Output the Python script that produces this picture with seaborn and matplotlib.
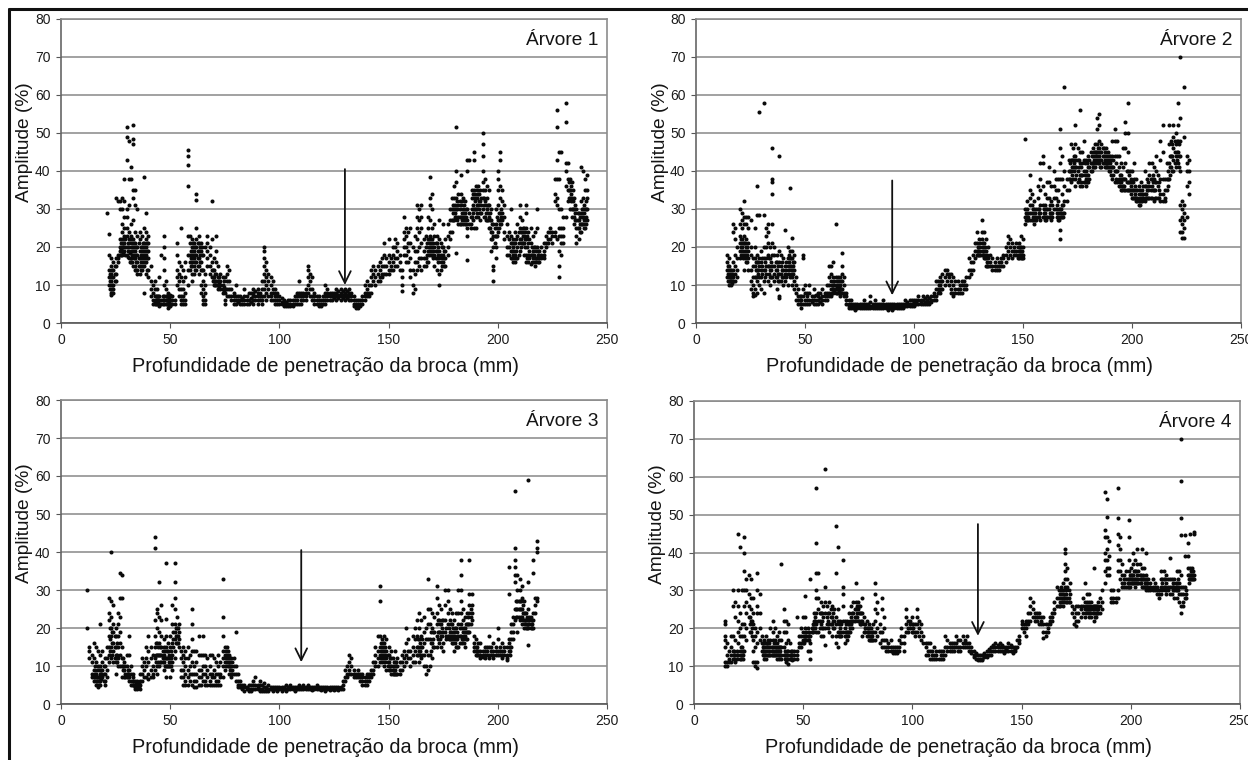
import matplotlib
matplotlib.use('Agg')
import matplotlib.pyplot as plt
from matplotlib.lines import Line2D
import pandas as pd
import seaborn as sns

# amplitude readings per drill depth (mm: [%])
tree1_amp = {
    21: [29], 22: [23.5, 18, 14, 12, 10], 23: [17, 15, 13, 11, 9, 8, 7.5], 24: [16, 14, 12, 10, 9, 8],
    25: [33, 17, 15, 13, 11], 26: [32, 18, 17, 16], 27: [32, 30, 22, 20, 19, 18],
    28: [33, 30, 26, 24, 22, 20, 19, 18], 29: [38, 32, 28, 25, 23, 21, 19], 30: [51.5, 49, 43, 30, 28, 25, 23, 20, 18],
    31: [48, 38, 31, 24, 22, 20, 17], 32: [41, 38, 26, 23, 21, 19, 17, 16], 33: [52, 48.5, 47, 35, 33, 27, 22, 20, 18, 15],
    34: [35, 31, 24, 21, 19, 17, 15, 14], 35: [30, 23, 20, 18, 16, 14, 13], 36: [24, 22, 19, 17, 15, 13],
    37: [23, 20, 18, 16, 14], 38: [38.5, 25, 21, 19, 17, 15, 8], 39: [29, 24, 22, 20, 18, 16, 13],
    40: [23, 21, 19, 17, 14, 12], 41: [15, 11, 9, 7], 42: [10, 8, 6, 5], 43: [11, 9, 7, 5.5, 5], 44: [9, 7, 6, 5],
    45: [12, 7, 6, 5, 4.5], 46: [18, 6, 5], 47: [23, 20, 17, 14, 10, 7, 6, 5], 48: [11, 9, 7, 6, 5], 49: [8, 6, 5, 4],
    50: [7.5, 6, 5, 4.5], 51: [7, 6, 5], 52: [6, 5], 53: [21, 18, 14, 12, 10], 54: [16, 13, 11, 9, 7],
    55: [25, 15, 12, 9, 7, 6, 5], 56: [14, 11, 9, 7, 6, 5], 57: [16, 12, 8, 6, 5], 58: [45.5, 44, 41.5, 36, 23, 18, 14, 10],
    59: [23, 21, 18, 16, 14], 60: [22, 20, 18, 16, 15, 13, 11], 61: [21, 19, 17, 15, 13],
    62: [34, 32.5, 25, 22, 20, 18, 16, 14], 63: [23, 21, 19, 17, 15, 13], 64: [21, 19, 16, 14, 10, 8],
    65: [18, 14, 11, 9, 7, 6, 5], 66: [20, 13, 10, 8, 6, 5], 67: [23, 21, 19, 17, 15], 68: [20, 18, 15, 13],
    69: [32, 22, 16, 14, 12], 70: [17, 14, 12, 11, 10], 71: [23, 19, 16, 13, 11, 10], 72: [15, 12, 11, 10, 9],
    73: [13, 11, 10, 9], 74: [12, 10, 9, 8], 75: [12, 9, 8, 6, 5], 76: [15, 13, 11, 9, 7], 77: [14, 11, 9, 7],
    78: [9, 7, 6], 79: [8, 7, 6, 5], 80: [10, 7, 6, 5], 82: [7, 6, 5], 84: [9, 7, 6, 5], 86: [8, 6, 5],
    88: [9, 8, 7, 6, 5], 90: [9, 8, 7, 6, 5], 92: [11, 9, 7, 6, 5], 93: [20, 19, 17, 15, 13, 11, 9, 7],
    94: [16, 14, 12, 10, 8, 6], 95: [13, 11, 9, 7], 96: [12, 10, 8, 7, 6], 97: [11, 9, 8, 6], 98: [9, 8, 7, 6, 5],
    100: [7, 6, 5], 102: [6, 5.5, 5, 4.5], 104: [6, 5, 4.5], 106: [6, 5, 4.5], 108: [8, 7, 6, 5], 109: [11, 8, 7, 5],
    110: [8, 7, 6, 5], 112: [9, 8, 7, 6], 113: [15, 14, 12, 10, 8], 114: [13, 11, 9, 7], 115: [12, 9, 7, 6],
    116: [8, 7, 6, 5], 118: [7, 6, 5, 4.5], 120: [7, 6, 5], 121: [10, 8, 7, 6, 5], 122: [9, 8, 7, 6], 124: [8, 7, 6],
    126: [9, 8, 7.5, 7, 6], 128: [9, 8, 7, 6], 130: [9, 8, 7, 6], 132: [9, 8, 7, 6], 134: [7, 6, 5, 4.5],
    135: [6, 5, 4.5, 4], 136: [6, 5, 4.5, 4], 138: [7, 6, 5], 139: [10, 8, 7, 6], 140: [11, 9, 8, 7], 141: [10, 8, 7],
    142: [14, 12, 10, 8], 143: [15, 13, 11], 144: [14, 12, 10], 146: [16, 14, 12, 11], 147: [17, 15, 13, 12],
    148: [21, 18, 15, 13], 150: [22, 18, 16, 14, 13], 152: [20, 18, 16, 14], 153: [22, 20, 17, 15], 154: [21, 19, 17, 15],
    155: [18, 16, 14], 156: [14, 12, 10, 8.5], 157: [28, 24, 22, 20, 18], 158: [25, 23, 20, 18, 16], 159: [24, 21, 19, 16],
    160: [25, 21, 17, 14, 12], 161: [20, 14, 10, 8], 162: [23, 19, 16, 13, 9], 163: [31, 28, 25, 22, 19, 16, 14],
    164: [30, 27, 24, 20, 17, 15], 165: [31, 28, 25, 21, 17, 14], 167: [23, 20, 17, 15], 168: [28, 25, 22, 19, 16],
    169: [38.5, 33, 31, 27, 23, 21, 19], 170: [34, 30, 25, 22, 20, 18], 171: [26, 23, 20, 18, 15], 172: [23, 21, 19, 17, 14],
    173: [27, 22, 19, 17, 13, 10], 174: [21, 18, 16, 14], 175: [26, 20, 18, 16], 176: [22, 19, 17, 15], 177: [26, 23, 20, 18],
    178: [30, 27, 24, 22], 179: [33, 30, 27, 24], 180: [36, 33, 30, 27], 181: [51.5, 40, 37, 33, 30, 28, 18.5],
    182: [34, 31, 28, 26], 183: [39, 34, 31, 28, 26], 184: [33, 30, 28, 26], 185: [32, 29, 26],
    186: [43, 40, 30, 27, 25, 23, 16.5], 187: [43, 29, 26], 188: [35, 33, 30, 28], 189: [45, 43, 35, 33, 30, 25],
    190: [36, 33, 30, 28, 25], 191: [36, 34, 31, 28], 192: [35, 32, 29, 27], 193: [50, 47, 44, 40, 37, 35, 33, 30],
    194: [38, 35, 32, 28], 195: [36, 33, 30, 27], 196: [35, 31, 28, 25], 197: [30, 27, 24, 22, 19],
    198: [26, 23, 20, 15, 14, 11], 199: [30, 26, 23, 20, 17], 200: [40, 38, 35, 31, 27, 24], 201: [45, 43, 36, 33, 29, 26],
    202: [35, 32, 29, 27], 203: [31, 28, 24, 22], 204: [26, 23, 20, 18], 206: [30, 23, 21, 19, 17], 207: [22, 20, 18, 16],
    208: [24, 21, 18, 16], 209: [26, 23, 20, 17], 210: [31, 28, 25, 22, 19], 211: [27, 24, 21], 212: [25, 23, 21, 18],
    213: [31, 29, 25, 22, 18, 16], 214: [24, 21, 18, 16], 215: [25, 21, 18, 15.5], 216: [23, 19, 17], 217: [24, 20, 17, 15],
    218: [30, 25, 20, 17], 219: [19, 17, 16], 221: [21, 19, 18, 17], 222: [23, 21, 20], 224: [25, 24, 22],
    226: [38, 34, 32, 24, 23], 227: [56, 51.5, 43, 38, 33, 31, 22], 228: [45, 38, 30, 25, 23, 19, 15, 12],
    229: [45, 30, 25, 23, 21, 18], 230: [28, 25, 23, 21], 231: [58, 53, 42, 40, 36, 28], 232: [42, 38, 35, 32],
    233: [38, 35, 33, 30], 234: [37, 33, 30, 28], 235: [33, 30, 28, 26], 236: [30, 27, 25, 23, 21], 237: [29, 27, 25, 22],
    238: [41, 32, 29, 26, 24], 239: [40, 33, 30, 28, 26], 240: [38, 35, 30, 27, 25], 241: [39, 35, 33, 30, 27],
}

# readings in between, where the cloud is dense
tree1_dense = {
    22.5: [13, 11, 9], 23.5: [14, 12, 10, 8], 24.5: [15, 13, 11], 27.5: [21, 19.5, 18], 28.5: [21, 20, 18.5], 29.5: [22, 20, 18],
    30.5: [21, 19, 17.5], 31.5: [22, 18.5, 16], 32.5: [22, 20, 18, 16], 33.5: [21, 19, 17], 34.5: [20, 18, 16, 14], 35.5: [21, 17, 15],
    36.5: [20, 18, 16, 14], 37.5: [21, 19, 17, 15], 38.5: [20, 18, 16], 39.5: [21, 19, 17, 14], 43.5: [7, 6, 5], 44.5: [7, 6, 5.5],
    46.5: [7, 6, 5], 48.5: [7, 6, 5], 49.5: [6.5, 5.5, 4.5], 59.5: [19, 17, 15], 60.5: [21, 19, 17], 61.5: [20, 18, 16, 14],
    62.5: [21, 19, 17, 15], 63.5: [20, 18, 16], 64.5: [20, 18, 14], 69.5: [14, 12, 11], 70.5: [13, 11, 10], 72.5: [12, 10.5, 9.5],
    74.5: [11, 9.5, 8.5], 81: [7, 6, 5.5], 83: [6.5, 6, 5], 85: [7, 6, 5], 87: [8, 6.5, 5.5], 89: [8.5, 7, 6], 91: [8, 7, 6],
    99: [8, 7, 6, 5], 101: [6.5, 5.5, 5], 103: [5.5, 5, 4.5], 105: [6, 5, 4.5], 107: [7, 6, 5], 111: [8, 7, 6], 117: [7, 6, 5],
    119: [6, 5, 4.5], 123: [8, 7, 6], 125: [8, 7, 6.5], 127: [8.5, 7.5, 6.5], 129: [8.5, 7.5, 6.5], 131: [8.5, 7.5, 6.5], 133: [8, 7, 6],
    137: [6, 5, 4.5], 145: [15, 13, 11], 149: [17, 15, 13], 151: [17, 15, 14], 166: [22, 19, 17, 15], 167.5: [21, 18, 16],
    168.5: [22, 20, 18], 169.5: [22, 20, 18], 170.5: [21, 19, 17], 171.5: [21, 19, 17], 172.5: [20, 18, 16], 174.5: [20, 17, 15],
    175.5: [19, 17, 15], 179.5: [31, 29, 27], 180.5: [31, 29, 28], 181.5: [32, 30, 27], 182.5: [32, 30, 28, 26], 183.5: [32, 29, 27],
    184.5: [31, 29, 27], 185.5: [30, 28, 26], 187.5: [28, 26, 25], 188.5: [34, 31, 29, 27], 189.5: [34, 32, 30], 190.5: [35, 33, 31, 29],
    191.5: [34, 32, 30], 192.5: [33, 31, 29], 193.5: [33, 31, 28], 194.5: [31, 29, 27], 195.5: [31, 29, 27], 196.5: [29, 27, 25],
    197.5: [26, 24, 22], 198.5: [25, 23, 21], 199.5: [28, 25, 23], 200.5: [29, 27, 25], 201.5: [30, 28, 26], 205: [24, 22, 20, 18],
    206.5: [21, 19, 17], 207.5: [21, 19, 17], 208.5: [22, 19, 17], 209.5: [24, 21, 18], 210.5: [24, 22, 20], 211.5: [25, 23, 21],
    212.5: [24, 22, 20], 213.5: [23, 20, 17], 214.5: [22, 19, 17], 215.5: [20, 18, 16], 216.5: [20, 18, 16], 217.5: [19, 17, 16],
    218.5: [19, 18, 16], 220: [20, 18, 17], 223: [24, 22, 21], 225: [24, 23, 21], 232.5: [37, 35, 33], 233.5: [36, 34, 32],
    234.5: [35, 32, 30], 235.5: [31, 29, 27], 236.5: [29, 27, 25], 237.5: [28, 26, 24], 238.5: [30, 28, 26], 239.5: [31, 29, 27, 25],
    240.5: [32, 30, 28, 26],
}

tree2_amp = {
    14: [18, 16, 14, 12], 15: [17, 15, 13, 11, 10], 16: [14, 12, 11, 10], 17: [26, 24, 16, 14, 12, 11],
    18: [25, 22, 18, 15, 13, 11], 19: [20, 17, 14, 12], 20: [30, 26, 23, 21, 19, 17], 21: [29, 27, 25, 22, 20, 18],
    22: [32, 28, 26, 23, 21, 18, 14], 23: [28, 26, 22, 20, 18, 16], 24: [28, 25, 21, 19, 17, 14], 25: [27, 20, 18, 14, 11, 9],
    26: [17, 15, 12, 10, 8, 7], 27: [25, 20, 17, 15, 12, 9, 7.5], 28: [36, 28.5, 18, 16, 14, 11, 8], 29: [55.5, 28.5, 17, 15, 12, 10],
    30: [19, 16, 14, 12, 9], 31: [58, 28.5, 20, 17, 14, 11, 8], 32: [25, 23, 20, 17, 15, 13], 33: [26, 24, 21, 18, 15, 11],
    34: [20, 17, 14, 12, 10], 35: [46, 38, 37, 34, 26, 21, 18, 15, 12], 36: [20, 18, 15, 13, 11], 37: [18, 16, 14, 12, 9],
    38: [44, 19, 16, 13, 11, 7, 6.5], 39: [18, 15, 13, 11], 40: [17, 14, 12, 10], 41: [24.5, 15, 13, 11], 42: [20, 17, 15, 13, 10],
    43: [35.5, 19, 17, 15, 12], 44: [22.5, 19, 17, 14, 12, 10], 45: [18, 16, 14, 11, 9], 46: [12, 10, 8, 6], 47: [9, 7, 6, 5],
    48: [7, 6, 5, 4], 49: [18, 17, 9, 7, 5], 50: [10, 8, 6, 5], 52: [10, 8, 6, 5], 54: [9, 7, 6, 5], 56: [8, 7, 6, 5],
    58: [9, 7, 6, 5], 60: [10, 8, 7, 6], 61: [15, 12, 10, 8, 7], 62: [15, 13, 11, 9, 7], 63: [16, 12, 10, 9, 8],
    64: [26, 12, 10, 9, 8], 65: [12, 10, 9, 8], 66: [12, 10, 9, 7], 67: [18.5, 15, 13, 11, 9, 8], 68: [12, 10, 8, 7],
    69: [8, 7, 6, 5], 71: [6, 5, 4.5, 4], 73: [5, 4.5, 4, 3.5], 75: [5, 4.5, 4], 77: [6, 5, 4.5, 4], 79: [5, 4.5, 4],
    80: [7, 5.5, 4.5, 4], 82: [6, 5, 4.5, 4], 84: [5, 4.5, 4], 86: [6, 5, 4.5, 4], 88: [5, 4.5, 4, 3.5], 90: [5, 4.5, 4, 3.5],
    92: [5, 4.5, 4], 94: [5, 4.5, 4], 96: [6, 5, 4.5], 98: [6, 5, 4.5], 100: [6, 5.5, 5, 4.5], 102: [7, 6, 5], 104: [7, 6, 5],
    106: [7, 6, 5.5, 5], 108: [7, 6, 5.5], 110: [11, 9, 7, 6], 111: [11, 9, 8], 112: [12, 10, 8], 113: [13, 11, 9],
    114: [14, 12, 10], 115: [14, 13, 11], 116: [13, 12, 10], 117: [13, 11, 9, 8], 118: [12, 10, 8, 7], 119: [11, 9, 8],
    120: [11, 9, 8], 122: [11, 10, 8], 124: [12, 10, 9], 125: [17, 14, 12], 126: [16, 14, 13], 127: [18, 16, 14],
    128: [21, 19, 17], 129: [24, 21, 19, 18], 130: [22, 20, 18], 131: [27, 24, 22, 20, 18], 132: [24, 21, 19, 17],
    133: [22, 19, 17, 15], 134: [20, 17, 15], 135: [18, 16, 15], 136: [17, 15, 14], 138: [17, 15, 14], 140: [17, 16, 15],
    141: [18, 17, 15], 142: [20, 18, 16], 143: [23, 21, 19, 17], 144: [22, 20, 18], 145: [21, 19, 17], 147: [21, 19, 18],
    148: [21, 19, 17], 149: [23, 20, 18, 17], 150: [22, 20, 18, 17], 151: [48.5, 30, 28, 26], 152: [32, 30, 28, 27],
    153: [39, 35, 33, 31, 29, 27], 154: [34, 31, 29, 27], 155: [32, 30, 28, 26], 156: [30, 28, 27], 157: [36, 33, 30, 28],
    158: [42, 38, 35, 31, 29, 27], 159: [44, 42, 36, 31, 28], 160: [34, 31, 29, 27], 161: [37, 33, 30, 28],
    162: [41, 37, 33, 30, 28], 163: [36, 32, 29, 27], 164: [40, 36, 33, 30], 165: [38, 35, 33, 30], 166: [38, 35, 32, 29, 27],
    167: [51, 46, 42, 38, 30, 28, 24.5, 22], 168: [44, 38, 34, 31, 28], 169: [62, 40, 36, 32, 29], 170: [38, 35, 32],
    171: [43, 40, 38, 35], 172: [47, 43, 40, 37], 173: [46, 43, 41, 38], 174: [52, 47, 44, 41, 38, 36], 175: [46, 43, 40, 37],
    176: [56, 45, 42, 39, 36], 177: [45, 42, 39, 36], 178: [48, 43, 40, 37], 179: [43, 40, 38, 36], 180: [44, 41, 39, 37],
    181: [45, 42, 40], 182: [46, 44, 42, 41], 183: [47, 45, 43, 41], 184: [54, 51, 47, 45, 43], 185: [55, 52, 48, 46, 44, 42],
    186: [47, 45, 43, 41], 187: [46, 44, 42], 188: [46, 44, 42, 41], 189: [45, 43, 41], 190: [44, 42, 40], 191: [48, 44, 41, 38],
    192: [51, 48, 44, 40, 37], 193: [48, 44, 40, 37], 194: [44, 41, 38, 36], 195: [42, 39, 37, 35], 196: [46, 41, 38, 36],
    197: [53, 50, 46, 42, 38, 35], 198: [58, 50, 45, 40, 37, 35], 199: [40, 37, 35], 200: [40, 37, 35, 33], 201: [42, 38, 35, 33],
    202: [38, 35, 33, 32], 203: [36, 34, 32, 31], 204: [37, 34, 32], 205: [36, 34, 33], 206: [40, 36, 34, 32], 207: [38, 35, 33],
    208: [42, 39, 36, 33], 209: [42, 38, 36, 33], 210: [41, 38, 35, 32], 211: [44, 40, 37, 33], 212: [39, 36, 33],
    213: [48, 43, 38, 34, 32], 214: [52, 45, 38, 34, 32], 215: [38, 35, 33, 32], 216: [42, 38, 35], 217: [52, 47, 42, 38],
    218: [48, 44, 41], 219: [52, 49, 46, 43, 40], 220: [50, 47, 44, 41], 221: [58, 52, 48, 45, 42],
    222: [70, 54, 48, 44, 40, 31, 27, 24], 223: [32, 30, 28, 26, 24, 22.5], 224: [62, 49, 31, 29, 27, 25, 22.5],
    225: [44, 42, 40, 36, 28], 226: [43, 40, 37, 34],
}

tree2_dense = {
    14.5: [15, 13, 11], 15.5: [14, 12, 11], 16.5: [13, 12, 10.5], 20.5: [22, 20, 18], 21.5: [21, 19, 17], 22.5: [21, 19, 17],
    23.5: [20, 18, 16], 27.5: [16, 14, 12], 28.5: [16, 14, 13], 30.5: [17, 15, 13], 31.5: [16, 14, 12], 33.5: [17, 15, 13],
    34.5: [16, 14, 12], 36.5: [16, 14, 12], 37.5: [15, 13, 11], 39.5: [16, 14, 12], 41.5: [16, 14, 12], 42.5: [18, 16, 14],
    43.5: [17, 15, 13], 44.5: [16, 15, 13], 47.5: [7, 6, 5], 51: [8, 7, 6, 5], 53: [7, 6, 5.5], 55: [7.5, 6, 5], 57: [8, 6.5, 5.5],
    59: [8, 7, 6], 62.5: [10, 9, 8], 63.5: [11, 10, 8.5], 64.5: [11, 9.5, 8], 65.5: [11, 9.5, 8.5], 66.5: [11, 9, 8],
    70: [6, 5, 4.5, 4], 72: [5, 4.5, 4], 74: [5, 4.5, 4], 76: [5, 4.5, 4], 78: [5, 4.5, 4], 81: [5, 4.5, 4], 83: [5, 4.5, 4],
    85: [5, 4.5, 4], 87: [5, 4.5, 4], 89: [5, 4.5, 4], 91: [5, 4.5, 4], 93: [5, 4.5, 4], 95: [5, 4.5, 4], 97: [5.5, 5, 4.5],
    99: [6, 5, 4.5], 101: [6, 5.5, 5], 103: [6, 5.5, 5], 105: [6.5, 5.5, 5], 107: [6.5, 5.5, 5], 109: [8, 7, 6], 111.5: [10, 8.5],
    112.5: [11, 9], 121: [10, 9, 8], 123: [11, 10, 9], 129.5: [20, 19, 18], 130.5: [21, 19, 18], 131.5: [21, 19, 18],
    132.5: [20, 18, 17], 133.5: [18, 16, 15], 137: [16, 15, 14], 139: [16, 15, 14], 146: [20, 19, 18], 147.5: [20, 18, 17],
    148.5: [20, 19, 18], 149.5: [19, 18, 17], 151.5: [29, 28, 27], 152.5: [29, 28, 27], 154.5: [30, 28, 27], 155.5: [29, 27],
    157.5: [30, 29, 28], 159.5: [30, 29, 28], 160.5: [30, 28, 27], 162.5: [31, 29, 28], 163.5: [31, 29, 28], 165.5: [31, 29, 28],
    166.5: [30, 28, 27], 167.5: [30, 29, 28], 168.5: [31, 29, 28], 171.5: [42, 40, 38], 172.5: [43, 41, 39], 173.5: [44, 42, 40],
    174.5: [43, 41, 39], 175.5: [43, 41, 38], 176.5: [41, 39, 37], 178.5: [42, 39, 37], 179.5: [42, 39, 37], 180.5: [43, 41, 38],
    181.5: [44, 42, 40], 182.5: [45, 43, 41], 183.5: [45, 44, 42], 184.5: [46, 44, 42], 185.5: [45, 43, 41], 186.5: [46, 44, 42],
    187.5: [45, 43, 41], 188.5: [44, 42, 41], 189.5: [44, 42, 40], 190.5: [43, 41, 39], 191.5: [43, 41, 39], 192.5: [42, 40, 38],
    194.5: [39, 37, 36], 195.5: [38, 36, 35], 196.5: [38, 36, 35], 197.5: [40, 37, 35], 198.5: [39, 37, 35], 199.5: [38, 36, 34],
    200.5: [37, 35, 33], 201.5: [36, 34, 33], 202.5: [35, 33, 32], 203.5: [35, 33, 31], 204.5: [35, 33, 32], 206.5: [36, 34, 33],
    207.5: [37, 35, 33], 208.5: [38, 35, 33], 209.5: [39, 37, 35], 210.5: [37, 35, 33], 212.5: [37, 35, 33], 216.5: [40, 38, 36],
    217.5: [44, 41, 39], 218.5: [47, 44, 40], 219.5: [48, 45, 42], 220.5: [48, 45, 43], 221.5: [47, 44, 41],
}

tree3_amp = {
    12: [30, 20], 13: [15, 14, 12], 14: [13, 11, 8, 7], 15: [16, 12, 9, 7, 6], 16: [15, 11, 8, 6, 5], 17: [14, 10, 7, 5, 4.5],
    18: [21, 13, 10, 8, 6, 5], 19: [14, 11, 9, 7], 20: [12, 10, 8, 6, 5], 21: [15, 12, 9, 7], 22: [28, 24, 22, 18, 15, 13, 11],
    23: [40, 27, 23, 20, 18, 15, 12], 24: [26, 21, 19, 16, 14, 11], 25: [20, 18, 15, 13, 11, 8], 26: [24, 21, 18, 15, 12, 10],
    27: [34.5, 28, 23, 19, 16, 13, 10], 28: [34, 28, 15, 12, 10, 7], 29: [11, 9, 7], 30: [13, 10, 8, 7], 31: [18, 13, 9, 7, 6],
    32: [10, 8, 6, 5], 33: [8, 6, 5], 34: [6, 5, 4.5, 4], 35: [6, 5, 4.5, 4], 36: [8, 6, 5, 4], 37: [12, 10, 8, 6], 38: [11, 9, 7],
    39: [15, 12, 10, 7], 40: [18, 14, 11, 8, 6.5], 41: [15, 12, 9, 7], 42: [13, 10, 8, 7], 43: [44, 41, 22, 18, 15, 12, 9],
    44: [25, 24, 20, 16, 13, 10, 8], 45: [32, 23, 19, 16, 13, 10], 46: [26, 22, 18, 15, 13, 11], 47: [17, 15, 13, 11, 9],
    48: [37, 22.5, 18, 15, 12, 10, 7], 49: [16, 14, 12, 10], 50: [18, 15, 12, 10, 7], 51: [26, 21, 16, 13, 11, 9],
    52: [37, 32, 28, 25, 21, 19, 17, 14, 12], 53: [23, 20, 18, 16], 54: [21, 19, 17, 15], 56: [15, 13, 11, 9, 7, 5],
    57: [14, 12, 10, 8, 6, 5], 58: [15, 12, 9, 7, 5], 60: [25, 21, 17, 14, 11, 8, 5], 61: [14, 10, 8, 6, 4.5], 62: [14, 11, 8, 6, 4.5],
    63: [18, 13, 9, 7, 5], 65: [18, 13, 10, 8, 6], 66: [13, 10, 8, 6, 5], 68: [13, 10, 8, 6, 5], 70: [12, 9, 7, 5],
    72: [13, 10, 8, 6, 5], 73: [11, 8, 7, 5], 74: [33, 23, 18, 14, 12, 10, 7], 75: [15, 13, 11, 9], 76: [15, 13, 11],
    77: [13, 11, 10, 8], 78: [12, 10, 8, 7], 79: [12, 10, 8], 80: [19, 10, 8, 6], 81: [8, 6, 5, 4.5], 82: [6, 5, 4.5],
    84: [5, 4.5, 3.5], 86: [5, 4, 3.5], 88: [6, 5, 4], 89: [7, 5, 4], 91: [6, 5, 4, 3.5], 93: [5.5, 4.5, 3.5], 95: [5, 4, 3.5],
    97: [4.5, 4, 3.5], 99: [4.5, 4, 3.5], 101: [4.5, 4, 3.5], 103: [5, 4, 3.5], 105: [5, 4.5, 4], 107: [4.5, 4, 3.5],
    109: [5, 4.5, 4], 111: [5, 4.5, 4], 113: [5, 4.5, 4], 115: [4.5, 4, 3.8], 117: [5, 4.5, 4], 119: [4.5, 4, 3.8],
    121: [4.5, 4, 3.5], 123: [4.5, 4, 3.8], 125: [4.5, 4, 3.8], 127: [4.5, 4, 3.8], 129: [6, 5, 4], 130: [9, 7, 6],
    131: [10, 8, 7], 132: [13, 11, 9, 8], 133: [12, 10, 8], 134: [9, 8, 7], 136: [9, 8, 7], 138: [8, 7, 6, 5], 140: [8, 7, 6, 5],
    141: [8, 7, 6], 142: [9, 8, 7], 143: [11, 9, 8], 144: [15, 13, 11, 10], 145: [18, 14, 12, 10], 146: [31, 27, 18, 15, 13, 11],
    147: [17, 15, 13, 11], 148: [18, 16, 14, 12, 10], 149: [17, 14, 12, 9], 150: [15, 13, 11, 9], 151: [14, 12, 10, 8],
    152: [12, 10, 9, 8], 153: [14, 11, 9, 8], 154: [12, 10, 8], 155: [11, 9, 8], 156: [13, 11, 9], 157: [14, 12, 10],
    158: [20, 16, 13, 11], 159: [17, 14, 12], 160: [14, 12, 10], 161: [18, 15, 13, 11], 162: [20, 17, 14, 11], 163: [22, 18, 15, 13],
    164: [24, 20, 17, 14, 11], 165: [22, 18, 15, 12], 166: [23, 19, 16, 13, 10], 167: [20, 17, 14, 10, 8], 168: [33, 25, 21, 17, 13, 9],
    169: [25, 21, 17, 13, 10], 170: [24, 20, 16, 12], 171: [23, 19, 15], 172: [31, 28, 24, 21, 18, 15], 173: [26, 22, 19, 16],
    174: [25, 21, 18, 15], 175: [22, 19, 16, 14], 176: [30, 26, 22, 19], 177: [30, 27, 24, 21, 18], 178: [25, 22, 19, 17],
    179: [24, 21, 18, 16], 180: [22, 19, 17, 14], 181: [24, 20, 17, 15], 182: [30, 24, 21, 18, 15], 183: [38, 34, 30, 27, 24, 21, 18],
    184: [25, 22, 19, 17], 185: [23, 20, 18, 15], 186: [24, 21, 19, 17], 187: [38, 29, 26, 24, 21, 19], 188: [29, 26, 24, 22],
    189: [18, 16, 15, 14], 190: [17, 15, 14, 13], 192: [16, 14, 13, 12], 194: [15, 14, 13, 12], 196: [18, 15, 13, 12],
    198: [16, 14, 13, 12], 200: [20, 17, 14, 13], 202: [16, 14, 13, 12], 204: [15, 13, 12, 11.5], 205: [36, 29, 17, 16, 14],
    206: [21, 19, 17, 15], 207: [23, 21, 19, 17], 208: [56, 41, 38, 36, 34, 32, 25, 22], 209: [34, 30, 27, 25, 23, 19],
    210: [33, 30, 27, 25, 22], 211: [31, 28, 25, 23, 21], 212: [27, 24, 22, 20], 213: [24, 22, 20], 214: [59, 32, 25, 21, 20, 15.5],
    215: [23, 21, 20], 216: [38, 34.5, 24, 22, 20], 217: [28, 26, 24], 218: [43, 41, 40, 28, 27],
}

tree3_dense = {
    15.5: [10, 8, 7], 16.5: [9, 7, 6], 17.5: [9, 7, 6], 18.5: [9, 8, 6.5], 19.5: [10, 8, 6], 22.5: [20, 17, 14], 23.5: [19, 16, 13],
    24.5: [18, 15, 12], 25.5: [16, 13, 11], 28.5: [12, 10, 9], 29.5: [10, 8, 7], 30.5: [9, 8, 7], 33: [7, 6, 5], 34.5: [5.5, 5, 4.5],
    35.5: [5.5, 5, 4.5], 43.5: [16, 13, 11], 44.5: [15, 13, 11], 45.5: [15, 13, 11], 46.5: [14, 12, 11], 47.5: [14, 12, 10],
    48.5: [14, 12, 10], 49.5: [13, 11, 10], 50.5: [14, 12, 10], 51.5: [19, 17, 15], 52.5: [20, 18, 16], 53.5: [20, 18, 16],
    55: [14, 12, 9, 7], 59: [13, 10, 8, 6], 64: [13, 9, 7, 5], 67: [12, 9, 7, 5], 69: [13, 8, 7, 5], 71: [11, 8, 6, 5],
    75.5: [14, 12, 10], 76.5: [14, 12, 10], 77.5: [12, 10, 9], 78.5: [11, 9, 8], 83: [5, 4.5, 4], 85: [4.5, 4], 87: [5, 4, 3.5],
    90: [5, 4.5, 4], 92: [5, 4, 3.5], 94: [4.5, 4, 3.5], 96: [4.5, 4], 98: [4.5, 4], 100: [4.5, 4], 102: [4.5, 4], 104: [4.5, 4],
    106: [4.5, 4], 108: [4.5, 4], 110: [4.5, 4], 112: [4.5, 4], 114: [4.5, 4], 116: [4.5, 4], 118: [4.5, 4], 120: [4.5, 4],
    122: [4.5, 4], 124: [4.5, 4], 126: [4.5, 4], 128: [4.5, 4], 135: [8, 7], 137: [8, 7, 6], 139: [7, 6, 5], 146.5: [16, 14, 12],
    147.5: [16, 14, 12], 148.5: [15, 13, 11], 149.5: [13, 11, 10], 150.5: [12, 10, 9], 152.5: [11, 9, 8], 153.5: [11, 10, 8],
    163.5: [17, 15, 13], 164.5: [16, 14, 13], 165.5: [17, 15, 13], 169.5: [19, 16, 14], 170.5: [19, 17, 15], 172.5: [22, 19, 17],
    173.5: [21, 19, 17], 174.5: [22, 20, 18], 176.5: [20, 18, 17], 177.5: [20, 18, 17], 178.5: [21, 19, 17], 179.5: [20, 18, 16],
    180.5: [20, 18, 16], 181.5: [19, 17, 15], 182.5: [20, 18, 16], 183.5: [20, 17, 16], 184.5: [20, 18, 16], 185.5: [21, 19, 17],
    186.5: [23, 21, 19], 187.5: [25, 23, 21], 190.5: [15, 14, 13], 191: [16, 14, 13], 193: [14, 13, 12.5], 195: [15, 14, 13],
    197: [15, 14, 13], 199: [15, 14, 13], 201: [15, 14, 13], 203: [15, 14, 13], 205.5: [15, 14, 13], 208.5: [27, 25, 23],
    209.5: [27, 25, 23], 210.5: [27, 25, 23], 211.5: [26, 24, 22], 212.5: [24, 22, 21], 213.5: [23, 21, 20], 214.5: [23, 22, 21],
    215.5: [22, 21, 20],
}

tree4_amp = {
    14: [22, 21, 18, 17, 15, 11, 10], 15: [16, 13, 11, 10], 16: [14, 12, 11], 17: [18, 15, 13, 11], 18: [30, 26, 18, 14, 12],
    19: [27, 23, 17, 13, 11], 20: [45, 30, 26, 22, 19, 16, 13], 21: [41.5, 24, 20, 18, 14, 12], 22: [30, 21, 18, 15, 13],
    23: [44, 40, 35, 30, 26, 21, 18, 14], 24: [33, 30, 27, 24, 20, 17], 25: [34, 29, 26, 23], 26: [33, 28, 25, 22, 19],
    27: [28, 24, 21, 17, 14, 11], 28: [20, 18, 15, 11, 10], 29: [34.5, 30, 26, 24, 19, 16, 11, 9.5], 30: [29, 24, 20, 17],
    31: [18, 16, 14], 32: [17, 15, 13, 12], 33: [18, 16, 14, 12], 34: [17, 15, 13], 35: [20, 17, 15, 13], 36: [22, 19, 17, 15, 13],
    37: [20, 17, 15, 13], 38: [18, 16, 14, 12], 39: [19, 17, 15, 13, 12], 40: [37, 17, 15, 13, 12], 41: [25, 22, 19, 15, 13],
    42: [22, 19, 16, 13, 11], 43: [21, 17, 14, 12, 10.5], 44: [16, 13, 12], 45: [14, 13, 12, 11.5], 46: [14, 13, 12],
    47: [23, 14, 13, 12], 48: [18, 16, 15], 49: [20, 18, 16, 15], 50: [23, 19, 17, 16], 51: [28.5, 23, 20, 18, 17],
    52: [20, 18, 17, 14], 53: [33, 18, 16, 14, 12], 54: [20, 19], 55: [24, 22, 20], 56: [57, 42.5, 34.5, 30, 28, 24, 21, 19],
    57: [34.5, 28, 25, 22, 19], 58: [27, 24, 21, 18], 59: [26, 23, 20, 18], 60: [62, 31, 27, 24, 20, 15.5], 61: [26, 23, 21],
    62: [27, 24, 21, 19], 63: [26, 23, 21, 18], 64: [25, 22, 20], 65: [47, 34.5, 23, 21, 18, 16], 66: [41.5, 25, 22, 19, 15],
    67: [22, 20, 18], 68: [38, 31, 29, 26, 22, 19], 69: [22, 20, 18, 16], 70: [22, 19, 17], 71: [24, 21, 19], 72: [26, 23, 21],
    73: [27, 24, 22], 74: [32, 27, 25, 23], 75: [27, 25, 22], 76: [26, 24, 21], 77: [28, 24, 22, 18], 78: [23, 21, 19],
    79: [22, 20, 18], 80: [21, 19, 17], 81: [20, 18, 17], 82: [21, 19, 17], 83: [32, 29, 25, 22, 19, 17], 84: [27, 24, 20, 18],
    85: [21, 19, 16], 86: [28, 25, 19, 17, 15], 87: [23, 20, 17, 15], 88: [17, 15, 14], 90: [17, 15, 14], 92: [15, 14, 13.5],
    94: [17, 15, 14], 95: [20, 18, 16], 96: [18, 16, 14], 97: [25, 23, 21, 19], 98: [22, 20, 19], 100: [23, 21, 19],
    101: [21, 19, 18], 102: [25, 23, 21, 19], 103: [22, 20, 18], 104: [21, 19, 17], 105: [18, 16], 106: [16, 15, 13],
    108: [16, 14, 12], 110: [15, 13, 12], 112: [14, 12], 114: [14, 13, 12], 115: [18, 15, 13], 116: [17, 15, 14], 118: [16, 15, 14],
    120: [18, 16, 15], 122: [17, 15, 14], 123: [18, 16, 15], 125: [18, 16, 15], 126: [16, 15, 14], 128: [14, 13, 12.5],
    130: [13, 12, 11.5], 132: [13, 12, 11.5], 134: [14, 13, 12.5], 136: [15, 14, 13], 138: [16, 15, 14], 140: [16, 15, 14],
    142: [15, 14, 13.5], 144: [16, 15, 14], 146: [15, 14, 13.5], 148: [17, 15], 149: [18, 17, 16], 150: [22, 21, 20],
    152: [22, 21, 20, 18], 154: [28, 26, 24, 22], 155: [27, 25, 23], 156: [24, 23, 22], 158: [24, 23, 21], 160: [23, 21, 19, 17.5],
    161: [21, 19, 18], 162: [21, 20, 19], 164: [24, 23, 22], 165: [27, 25, 24], 166: [31, 28, 26], 167: [30, 28, 26],
    168: [31, 29, 27], 169: [32, 30, 28, 26], 170: [41, 40, 37, 35, 33, 31, 28], 171: [36, 33, 31, 28, 27], 172: [32, 29, 27],
    173: [26, 24], 174: [25, 23, 21], 175: [26, 24, 22, 20.5], 176: [26, 24, 22], 178: [28, 26, 24], 179: [32, 27, 25, 23],
    180: [29, 27, 25], 181: [29, 27, 25, 23], 182: [27, 25, 23], 183: [36, 26, 24, 22], 184: [26, 24, 23], 186: [28, 26, 24],
    187: [30, 27, 25], 188: [56, 46, 44, 40, 38, 35, 32], 189: [54, 49.5, 44, 41, 38, 36, 34], 190: [43, 39, 36, 34],
    191: [30, 28, 27], 192: [30, 28, 27], 193: [28, 27], 194: [57, 49, 45, 42, 38, 35, 30, 28], 195: [44, 41, 38, 35, 33],
    196: [37, 34, 32, 31], 198: [35, 33, 31], 199: [48.5, 44, 38, 35, 33, 31], 200: [36, 34, 32], 201: [40, 37, 34, 32],
    202: [38, 35, 33, 31], 203: [41, 37, 34, 32], 204: [37, 34, 32], 205: [41, 36, 33, 31], 206: [36, 33, 31], 207: [40, 34, 32, 30],
    208: [33, 31, 30], 210: [33, 31, 30], 212: [31, 30, 29], 213: [30, 29, 28], 214: [35, 33, 31, 29], 215: [35, 33, 31],
    216: [34, 32, 30, 29], 218: [38.5, 33, 31, 29], 219: [33, 31, 29], 220: [33, 31, 30, 28], 221: [35, 32, 30, 28],
    222: [35, 32, 29, 27], 223: [70, 59, 49, 44.5, 34, 31, 29, 26, 24], 224: [31, 29, 27, 26], 225: [44.5, 39, 31, 28],
    226: [42.5, 39, 36, 34], 227: [45, 36, 34, 33], 228: [36, 34, 33], 229: [45.5, 45, 34, 33],
}

tree4_dense = {
    18.5: [14, 13, 12], 19.5: [14, 13, 12], 21.5: [15, 13, 12], 22.5: [14, 13, 12], 25.5: [23, 21, 19], 26.5: [22, 20, 18],
    31.5: [16, 15, 14, 13], 32.5: [16, 14, 13], 33.5: [16, 15, 13], 34.5: [16, 14, 13], 35.5: [15, 14, 13], 36.5: [16, 14, 13],
    37.5: [15, 14, 13], 38.5: [15, 14, 13], 39.5: [15, 14, 13], 41.5: [14, 13, 12], 42.5: [14, 13, 12], 44.5: [14, 13, 12],
    50.5: [18, 17, 16], 51.5: [19, 18, 17], 52.5: [19, 18, 17], 54.5: [21, 20, 19], 55.5: [23, 22, 20], 57.5: [24, 22, 20],
    58.5: [24, 22, 20], 61.5: [24, 22, 20], 62.5: [25, 23, 21], 63.5: [24, 22, 20], 66.5: [21, 19, 18], 67.5: [21, 19, 18],
    69.5: [21, 19, 18], 70.5: [21, 19, 18], 71.5: [22, 20, 19], 72.5: [24, 22, 20], 73.5: [25, 23, 22], 74.5: [26, 24, 23],
    75.5: [26, 24, 22], 76.5: [24, 22, 21], 78.5: [21, 20, 19], 79.5: [20, 19, 18], 80.5: [20, 18, 17], 81.5: [19, 18, 17],
    89: [16, 15, 14], 91: [15, 14, 13.5], 93: [15, 14, 13.5], 99: [22, 21, 20], 100.5: [21, 20, 19], 107: [16, 14, 13],
    109: [14, 13, 12], 111: [14, 13, 12], 113: [14, 13, 12], 117: [16, 15, 14], 119: [16, 15, 14], 121: [17, 15, 14],
    124: [17, 16, 15], 127: [15, 14, 13.5], 129: [13.5, 13, 12], 131: [13, 12, 11.5], 133: [13.5, 13, 12.5], 135: [14.5, 14, 13],
    137: [15.5, 15, 14], 139: [15.5, 15, 14], 141: [15.5, 15, 14], 143: [15, 14.5, 14], 145: [15.5, 15, 14], 147: [15, 14.5, 14],
    151: [21, 20, 19], 153: [24, 22, 21], 157: [24, 23, 22], 159: [23, 22, 21], 163: [23, 22, 21], 167.5: [29, 27, 26],
    168.5: [30, 28, 27], 169.5: [29, 28, 27], 170.5: [30, 29, 27], 171.5: [30, 28, 27], 177: [26, 25, 23], 179.5: [26, 25, 24],
    180.5: [26, 25, 24], 181.5: [26, 25, 24], 182.5: [26, 25, 24], 183.5: [26, 25, 23], 184.5: [26, 25, 24], 185: [27, 25, 24],
    197: [34, 33, 32, 31], 198.5: [33, 32, 31], 199.5: [34, 33, 31], 200.5: [34, 33, 32], 201.5: [35, 33, 32], 202.5: [35, 33, 32],
    203.5: [35, 33, 32], 204.5: [34, 33, 32], 205.5: [34, 33, 31], 206.5: [33, 32, 31], 207.5: [33, 32, 31], 209: [32, 31, 30],
    211: [32, 31, 30], 214.5: [33, 32, 30], 215.5: [33, 31, 30], 217: [33, 31, 30], 219.5: [32, 31, 30], 220.5: [32, 31, 30],
    221.5: [33, 31, 30], 225.5: [30, 29, 28], 226.5: [34, 33, 32], 227.5: [35, 34, 33], 228.5: [35, 34, 33],
}

tree_names = ['Árvore 1', 'Árvore 2', 'Árvore 3', 'Árvore 4']
arrow_depth = [130, 90, 110, 130]
arrow_top = [40.5, 37.5, 40.5, 47.5]
arrow_tip = [10, 7.3, 11, 18]

x_ticks = [0, 50, 100, 150, 200, 250]
y_ticks = [0, 10, 20, 30, 40, 50, 60, 70, 80]
x_label = 'Profundidade de penetração da broca (mm)'
y_label = 'Amplitude (%)'

W, H = 1248, 760
# left, right, top, bottom of each plot area in pixels
boxes = [(61, 607, 19, 323), (696, 1241, 19, 323), (61, 607, 400, 704), (694, 1240, 401, 704)]

sns.set_style('white')
plt.rcParams['font.family'] = ['Liberation Sans', 'DejaVu Sans']

fig = plt.figure(figsize=(W / 100, H / 100), dpi=100)

all_trees = [(tree1_amp, tree1_dense), (tree2_amp, tree2_dense), (tree3_amp, tree3_dense), (tree4_amp, tree4_dense)]
for i, (tree, dense) in enumerate(all_trees):
    l, r, t, b = boxes[i]
    ax = fig.add_axes([l / W, 1 - b / H, (r - l) / W, (b - t) / H])
    rows = []
    for part in (tree, dense):
        rows += [(depth, amp) for depth, amps in part.items() for amp in amps]
    df = pd.DataFrame(rows, columns=['depth', 'amp'])
    ax.set_axisbelow(True)
    ax.grid(axis='y', color='#9a9a9a', lw=1.3)
    sns.scatterplot(data=df, x='depth', y='amp', ax=ax, color='#0a0a0a', s=8.5, marker='o', linewidth=0, zorder=3)
    ax.set_xlim(0, 250)
    ax.set_ylim(0, 80)
    ax.set_xticks(x_ticks)
    ax.set_yticks(y_ticks)
    ax.tick_params(axis='both', length=3.5, width=0.8, color='#555555', labelsize=10, labelcolor='#1c1c1c', pad=4,
                   bottom=True, left=True)
    for side in ax.spines.values():
        side.set_color('#8c8c8c')
        side.set_linewidth(1.2)
    ax.spines['left'].set_color('#666666')
    ax.spines['bottom'].set_color('#555555')
    ax.set_xlabel(x_label, fontsize=14.3, color='#141414', va='center')
    ax.set_ylabel(y_label, fontsize=13.8, color='#141414', va='center')
    ax.xaxis.set_label_coords(0.484, -0.142)
    ax.yaxis.set_label_coords(-0.066, 0.594)
    ax.text(0.984, 0.928, tree_names[i], transform=ax.transAxes, ha='right', va='center', fontsize=13.8, color='#141414')
    ax.annotate('', xy=(arrow_depth[i], arrow_tip[i]), xytext=(arrow_depth[i], arrow_top[i]),
                arrowprops=dict(arrowstyle='->,head_length=0.85,head_width=0.42', color='#111111', lw=1.3,
                                shrinkA=0, shrinkB=0), zorder=4)

# black frame left over from the page scan, top and left edges
fig.add_artist(Line2D([9 / W, 9 / W], [0, 1 - 9 / H], color='#111111', lw=2.2))
fig.add_artist(Line2D([9 / W, 1], [1 - 9 / H, 1 - 9 / H], color='#111111', lw=2.2))

fig.savefig('out.png', dpi=100)
